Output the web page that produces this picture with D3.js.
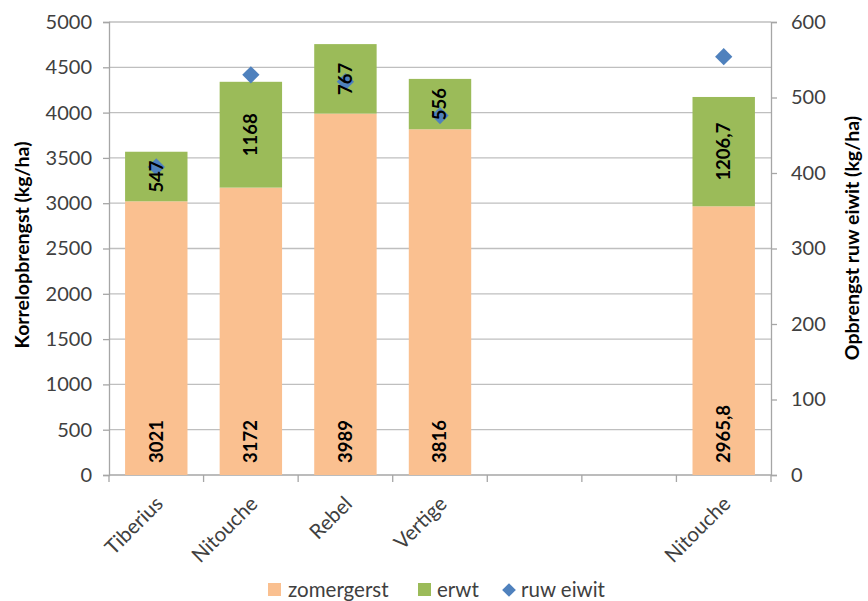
<!DOCTYPE html>
<html><head><meta charset="utf-8">
<script src="https://cdn.jsdelivr.net/npm/d3@7/dist/d3.min.js"></script>
<style>body{margin:0;background:#fff}svg{display:block}</style>
</head><body>
<svg id="c" width="868" height="601"></svg>
<script>
const categories = ["Tiberius","Nitouche","Rebel","Vertige","","","Nitouche"];
const zomergerst = [3021,3172,3989,3816,null,null,2965.8];
const erwt = [547,1168,767,556,null,null,1206.7];
const ruwEiwit = [408,530,521,476,null,null,554];
const zomerLabels = ["3021","3172","3989","3816","","","2965,8"];
const erwtLabels = ["547","1168","767","556","","","1206,7"];
const leftTicks = [0,500,1000,1500,2000,2500,3000,3500,4000,4500,5000];
const rightTicks = [0,100,200,300,400,500,600];

const font = "Lato, 'Open Sans', sans-serif";
const svg = d3.select("#c");
const L = 109, R = 771, T = 22, B = 475;
const x = d3.scaleBand().domain(d3.range(categories.length)).range([L,R]).paddingInner(0.34).paddingOuter(0.17);
const xb = d3.scaleBand().domain(d3.range(categories.length)).range([L,R]);
const y = d3.scaleLinear().domain([0,5000]).range([B,T]);
const y2 = d3.scaleLinear().domain([0,600]).range([B,T]);

// grid
svg.append("g").selectAll("line").data(leftTicks.slice(1)).join("line")
  .attr("x1",L).attr("x2",R).attr("y1",d=>y(d)).attr("y2",d=>y(d))
  .attr("stroke","#bfbfbf").attr("stroke-width",1.3);

// left axis
const la = svg.append("g").attr("transform",`translate(${L},0)`)
  .call(d3.axisLeft(y).tickValues(leftTicks).tickSize(6).tickPadding(11).tickFormat(d3.format("d")));
la.select(".domain").attr("stroke","#a6a6a6").attr("stroke-width",1.3);
la.selectAll(".tick line").attr("stroke","#a6a6a6").attr("stroke-width",1.3);
la.selectAll("text").attr("font-family",font).attr("font-size",20).attr("fill","#404040");

// right axis
const ra = svg.append("g").attr("transform",`translate(${R},0)`)
  .call(d3.axisRight(y2).tickValues(rightTicks).tickSize(6).tickPadding(14));
ra.select(".domain").attr("stroke","#a6a6a6").attr("stroke-width",1.3);
ra.selectAll(".tick line").attr("stroke","#a6a6a6").attr("stroke-width",1.3);
ra.selectAll("text").attr("font-family",font).attr("font-size",20).attr("fill","#404040");

// bottom axis
svg.append("line").attr("x1",L).attr("x2",R).attr("y1",B).attr("y2",B).attr("stroke","#a6a6a6").attr("stroke-width",1.3);
svg.append("g").selectAll("line").data(d3.range(categories.length+1)).join("line")
  .attr("x1",i=>i<categories.length?xb(i):R).attr("x2",i=>i<categories.length?xb(i):R)
  .attr("y1",B).attr("y2",B+7).attr("stroke","#a6a6a6").attr("stroke-width",1.3);
svg.append("g").selectAll("text").data(categories).join("text")
  .attr("transform",(d,i)=>`translate(${xb(i)+xb.bandwidth()/2+3},${B+25}) rotate(-45)`)
  .attr("text-anchor","end").attr("dy","0.35em")
  .attr("font-family",font).attr("font-size",20.5).attr("fill","#404040").text(d=>d);

// bars
const idx = d3.range(categories.length).filter(i=>zomergerst[i]!=null);
svg.append("g").selectAll("rect").data(idx).join("rect")
  .attr("x",i=>x(i)).attr("width",x.bandwidth())
  .attr("y",i=>y(zomergerst[i])).attr("height",i=>y(0)-y(zomergerst[i])).attr("fill","#FAC090");
svg.append("g").selectAll("rect").data(idx).join("rect")
  .attr("x",i=>x(i)).attr("width",x.bandwidth())
  .attr("y",i=>y(zomergerst[i]+erwt[i])).attr("height",i=>y(zomergerst[i])-y(zomergerst[i]+erwt[i])).attr("fill","#9BBB59");

// diamonds
const diamond = d3.symbol().type(d3.symbolDiamond2).size(190);
svg.append("g").selectAll("path").data(idx).join("path")
  .attr("d",diamond).attr("transform",i=>`translate(${x(i)+x.bandwidth()/2},${y2(ruwEiwit[i])})`)
  .attr("fill","#4F81BD");

// labels
svg.append("g").selectAll("text").data(idx).join("text")
  .attr("transform",i=>`translate(${x(i)+x.bandwidth()/2},${y(0)-12}) rotate(-90)`)
  .attr("text-anchor","start").attr("dy","0.35em")
  .attr("font-family",font).attr("font-weight","bold").attr("font-size",18.5).attr("fill","#000")
  .text(i=>zomerLabels[i]);
svg.append("g").selectAll("text").data(idx).join("text")
  .attr("transform",i=>`translate(${x(i)+x.bandwidth()/2},${y(zomergerst[i]+erwt[i]/2)}) rotate(-90)`)
  .attr("text-anchor","middle").attr("dy","0.35em")
  .attr("font-family",font).attr("font-weight","bold").attr("font-size",18.5).attr("fill","#000")
  .text(i=>erwtLabels[i]);

// axis titles
svg.append("text").attr("transform",`translate(22,245) rotate(-90)`)
  .attr("text-anchor","middle").attr("dy","0.35em")
  .attr("font-family",font).attr("font-weight","bold").attr("font-size",19.5).attr("fill","#000")
  .text("Korrelopbrengst (kg/ha)");
svg.append("text").attr("transform",`translate(852,238) rotate(-90)`)
  .attr("text-anchor","middle").attr("dy","0.35em")
  .attr("font-family",font).attr("font-weight","bold").attr("font-size",19.5).attr("fill","#000")
  .text("Opbrengst ruw eiwit (kg/ha)");

// legend
const lg = svg.append("g").attr("font-family",font).attr("font-size",20.5).attr("fill","#404040");
lg.append("rect").attr("x",268).attr("y",583).attr("width",13).attr("height",13).attr("fill","#FAC090");
lg.append("text").attr("x",288).attr("y",590).attr("dy","0.35em").text("zomergerst");
lg.append("rect").attr("x",418).attr("y",583).attr("width",13).attr("height",13).attr("fill","#9BBB59");
lg.append("text").attr("x",437).attr("y",590).attr("dy","0.35em").text("erwt");
lg.append("path").attr("d",d3.symbol().type(d3.symbolDiamond2).size(120)).attr("transform","translate(509,590)").attr("fill","#4F81BD");
lg.append("text").attr("x",521).attr("y",590).attr("dy","0.35em").text("ruw eiwit");
</script>
</body></html>
